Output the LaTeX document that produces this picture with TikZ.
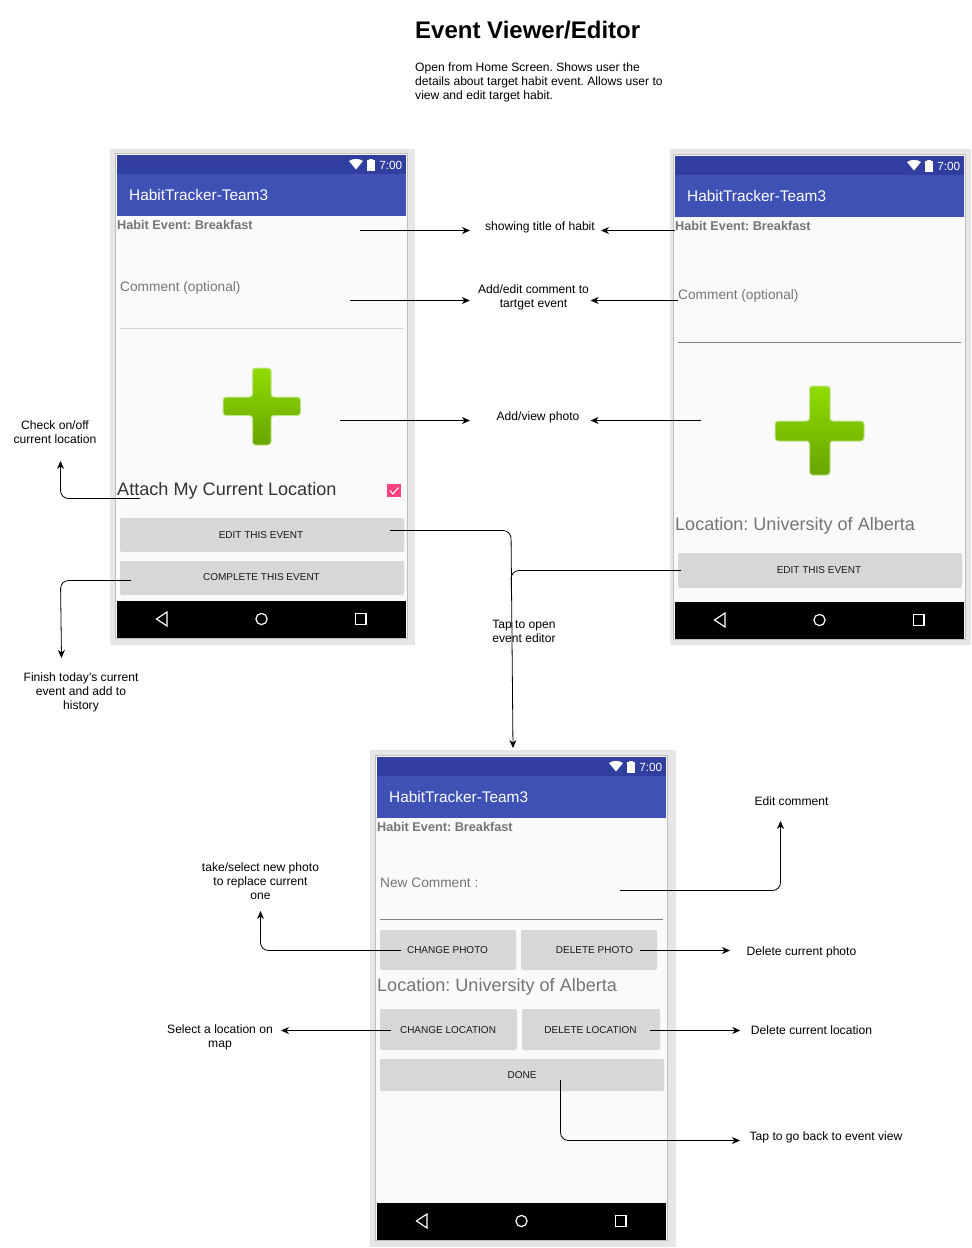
\documentclass[tikz,border=0pt]{standalone}
\usepackage{fontspec}
\setmainfont{Liberation Sans}
\usepackage{xcolor}
\usetikzlibrary{arrows.meta,positioning,calc}

\definecolor{statusblue}{HTML}{303F9F}
\definecolor{barblue}{HTML}{3F51B5}
\definecolor{framegray}{HTML}{E6E6E6}
\definecolor{edgegray}{HTML}{BDBDBD}
\definecolor{screenwhite}{HTML}{FAFAFA}
\definecolor{buttongray}{HTML}{D6D7D7}
\definecolor{hintgray}{HTML}{757575}
\definecolor{checkpink}{HTML}{FF4081}
\definecolor{plustop}{HTML}{90DC00}
\definecolor{plusbottom}{HTML}{68A400}
\definecolor{plusglow}{HTML}{C4E68C}

\tikzset{
    conn/.style={black, line width=0.8pt, -{Stealth[length=8pt,width=7pt]}},
    elbow/.style={conn, rounded corners=8pt},
    note/.style={align=center, inner sep=0pt, font=\fontsize{12.1}{14}\selectfont},
    hint/.style={anchor=west, inner sep=0pt, text=hintgray, font=\fontsize{13.7}{16}\selectfont},
    habit/.style={anchor=west, inner sep=0pt, text=hintgray, font=\fontsize{12.7}{16}\selectfont\bfseries},
    place/.style={anchor=west, inner sep=0pt, text=hintgray, font=\fontsize{18.05}{20}\selectfont},
    btn/.style={draw=none, fill=buttongray, rounded corners=2pt},
    btntext/.style={inner sep=0pt, text=black!90, font=\fontsize{10}{12}\selectfont},
    plus/.style={draw=plusglow, line width=1pt, rounded corners=3pt, top color=plustop, bottom color=plusbottom},
}

% frame, status bar, app bar and navigation bar of one phone
\newcommand{\phonechrome}[5]{
    \fill[framegray] #4 rectangle #5;
    \begin{scope}[shift={(#2,#3)}, name prefix=#1-]
        \draw[edgegray, fill=screenwhite] (-1.5,-2) rectangle (290.5,483.5);
        \fill[statusblue] (0,0) rectangle (289,19);
        \fill[barblue] (0,19) rectangle (289,61);
        \fill[black] (0,446) rectangle (289,483);
        \node[anchor=west, inner sep=0pt, text=white, font=\fontsize{15.4}{18}\selectfont] (app) at (12,40) {HabitTracker-Team3};
        \node[anchor=east, inner sep=0pt, text=white, font=\fontsize{11.8}{14}\selectfont] (clock) at (285.5,10.5) {7:00};
        \fill[white] (232,6) .. controls (236,3.2) and (242,3.2) .. (246,6) -- (239,14.5) -- cycle;
        \fill[white] (250,5) rectangle (258,16);
        \fill[white] (252,3.5) rectangle (256,5);
        \draw[white, line width=1.2pt] (50,457) -- (50,471) -- (39.5,464) -- cycle;
        \draw[white, line width=1.2pt] (144.5,464) circle (5.6);
        \draw[white, line width=1.2pt] (238.5,458.5) rectangle (249,469.5);
    \end{scope}
}

\begin{document}
\frenchspacing
\begin{tikzpicture}[x=1pt, y=-1pt]
    \useasboundingbox[fill=white] (0,0) rectangle (972,1248);

    % Heading
    \node[anchor=west, inner sep=0pt, font=\fontsize{24}{28}\selectfont\bfseries] (heading) at (415,30) {Event Viewer/Editor};
    \node[anchor=north west, align=left, inner sep=0pt, font=\fontsize{12.1}{14}\selectfont] (intro) at (415,63) {Open from Home Screen. Shows user the\\details about target habit event. Allows user to\\view and edit target habit.};

    % Phones
    \phonechrome{left}{117}{155}{(110,149)}{(415,645)}
    \phonechrome{right}{675}{156}{(670,149)}{(971,645)}
    \phonechrome{edit}{377}{757}{(370,750)}{(676,1247)}

    % Left phone
    \node[habit] (leftHabit) at (117,224.5) {Habit Event: Breakfast};
    \node[hint] (leftComment) at (120,287.5) {Comment (optional)};
    \draw[black!17, line width=1pt] (120,328.5) -- (403,328.5);
    \path[plus] (252.5,368) -- (271,368) -- (271,397) -- (300.5,397) -- (300.5,415.5) -- (271,415.5) -- (271,445) -- (252.5,445) -- (252.5,415.5) -- (223,415.5) -- (223,397) -- (252.5,397) -- cycle;
    \node[anchor=west, inner sep=0pt, text=black!80, font=\fontsize{18.1}{20}\selectfont] (leftAttach) at (117,490.5) {Attach My Current Location};
    \fill[checkpink] (387,484) rectangle (401,497);
    \draw[white, line width=1pt] (390,490.5) -- (393,494) -- (398.5,487.5);
    \fill[btn] (120,518) rectangle (404,552);
    \node[btntext] (leftEdit) at (261,535) {EDIT THIS EVENT};
    \fill[btn] (120,561) rectangle (404,595);
    \node[btntext] (leftDone) at (261.5,577.5) {COMPLETE THIS EVENT};

    % Right phone
    \node[habit] (rightHabit) at (675,225.5) {Habit Event: Breakfast};
    \node[hint] (rightComment) at (678,295.5) {Comment (optional)};
    \draw[black!50, line width=0.8pt] (678,342.5) -- (961,342.5);
    \path[plus] (809.5,386) -- (830,386) -- (830,421) -- (864,421) -- (864,441) -- (830,441) -- (830,475) -- (809.5,475) -- (809.5,441) -- (775,441) -- (775,421) -- (809.5,421) -- cycle;
    \node[place] (rightPlace) at (675,525.5) {Location: University of Alberta};
    \fill[btn] (678,553) rectangle (962,588);
    \node[btntext] (rightEdit) at (819,570) {EDIT THIS EVENT};

    % Editor phone
    \node[habit] (editHabit) at (377,826.5) {Habit Event: Breakfast};
    \node[hint] (editComment) at (380,882.5) {New Comment :};
    \draw[black!50, line width=0.8pt] (380,919.5) -- (663,919.5);
    \fill[btn] (380,930) rectangle (516,970);
    \node[btntext] (editPhoto) at (447.5,950.5) {CHANGE PHOTO};
    \fill[btn] (521,930) rectangle (657,970);
    \node[btntext] (dropPhoto) at (594.5,950.5) {DELETE PHOTO};
    \node[place] (editPlace) at (377,986.5) {Location: University of Alberta};
    \fill[btn] (380,1009) rectangle (517,1050);
    \node[btntext] (editSpot) at (448,1030) {CHANGE LOCATION};
    \fill[btn] (522,1009) rectangle (660,1050);
    \node[btntext] (dropSpot) at (590.5,1030) {DELETE LOCATION};
    \fill[btn] (380,1059) rectangle (664,1091);
    \node[btntext] (editDone) at (522,1075) {DONE};

    % Notes
    \node[note] (noteTitle) at (540,227) {showing title of habit};
    \node[note] (noteComment) at (533.5,297) {Add/edit comment to\\tartget event};
    \node[note] (notePhoto) at (538,417) {Add/view photo};
    \node[note] (noteCheck) at (55,432.5) {Check on/off\\current location};
    \node[note] (noteFinish) at (81,692) {Finish today's current\\event and add to\\history};
    \node[note] (noteOpen) at (524,631.5) {Tap to open\\event editor};
    \node[note] (noteEdit) at (791.5,801.5) {Edit comment};
    \node[note] (noteTake) at (260.5,881.5) {take/select new photo\\to replace current\\one};
    \node[note] (noteDrop) at (801.5,952) {Delete current photo};
    \node[note] (noteSelect) at (220,1037.5) {Select a location on\\map};
    \node[note] (noteSpot) at (811.5,1030.5) {Delete current location};
    \node[note] (noteBack) at (826,1137) {Tap to go back to event view};

    % Connector ends
    \coordinate (titleL) at (360,230.5);
    \coordinate (titleR) at (675,230.5);
    \coordinate (commentL) at (350,300.5);
    \coordinate (commentR) at (678,300.5);
    \coordinate (photoL) at (340,420.5);
    \coordinate (photoR) at (701,420.5);
    \coordinate (attachEnd) at (140,498.5);
    \coordinate (checkTip) at (60.5,461);
    \coordinate (completeEnd) at (131,580.5);
    \coordinate (completeBend) at (60.5,580.5);
    \coordinate (finishTip) at (61.5,658);
    \coordinate (editEnd) at (390,530.5);
    \coordinate (editBend) at (511,530.5);
    \coordinate (editTip) at (513,748);
    \coordinate (joinEnd) at (681,570.5);
    \coordinate (joinBend) at (511,570.5);
    \coordinate (joinFoot) at (511.3,590);
    \coordinate (commentEnd) at (620,890.5);
    \coordinate (commentTip) at (780.5,821);
    \coordinate (photoEnd) at (401,950.5);
    \coordinate (takeTip) at (260.5,911);
    \coordinate (dropEnd) at (640,950.5);
    \coordinate (spotEnd) at (391,1030.5);
    \coordinate (dropSpotEnd) at (650,1030.5);
    \coordinate (doneEnd) at (560.5,1080);
    \coordinate (backTip) at (740,1140.5);

    % Connectors
    \draw[conn] (titleL) -- ($(titleL -| noteTitle.west)+(-15,0)$);
    \draw[conn] (titleR) -- ($(titleR -| noteTitle.east)+(6,0)$);
    \draw[conn] (commentL) -- ($(commentL -| noteComment.west)+(-8,0)$);
    \draw[conn] (commentR) -- ($(commentR -| noteComment.east)+(1.5,0)$);
    \draw[conn] (photoL) -- ($(photoL -| notePhoto.west)+(-26.5,0)$);
    \draw[conn] (photoR) -- ($(photoR -| notePhoto.east)+(11,0)$);
    \draw[elbow] (attachEnd) -| (checkTip);
    \draw[elbow] (completeEnd) -- (completeBend) -- (finishTip);
    \draw[elbow] (editEnd) -- (editBend) -- (editTip);
    \draw[black, line width=0.8pt, rounded corners=8pt] (joinEnd) -- (joinBend) -- (joinFoot);
    \draw[elbow] (commentEnd) -| (commentTip);
    \draw[elbow] (photoEnd) -| (takeTip);
    \draw[conn] (dropEnd) -- ($(dropEnd -| noteDrop.west)+(-16.5,0)$);
    \draw[conn] (spotEnd) -- ($(spotEnd -| noteSelect.east)+(8,0)$);
    \draw[conn] (dropSpotEnd) -- ($(dropSpotEnd -| noteSpot.west)+(-10.5,0)$);
    \draw[elbow] (doneEnd) |- (backTip);
\end{tikzpicture}
\end{document}
